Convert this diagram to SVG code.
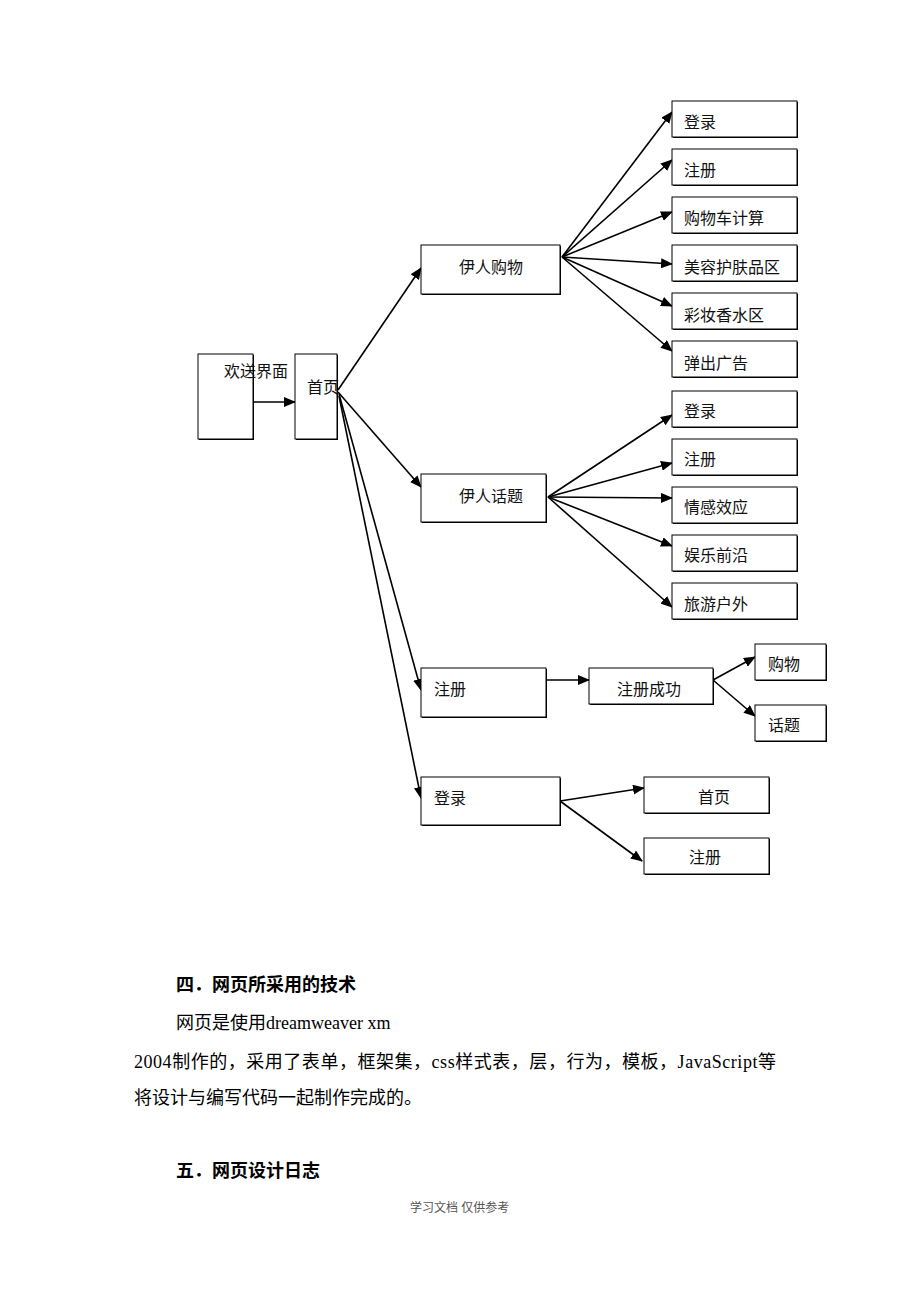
<svg xmlns="http://www.w3.org/2000/svg" width="920" height="1302" viewBox="0 0 920 1302">
<style>
.sh{fill:#000}
.bx{fill:#fff;stroke:#000;stroke-width:1}
.lb{font-family:"Liberation Serif","Noto Sans CJK SC",serif;font-size:16px;fill:#111}
.ln{stroke:#000;stroke-width:1.6;fill:none;marker-end:url(#ah)}
.tx{font-family:"Liberation Serif","Noto Sans CJK SC",serif;font-size:18px;fill:#000}
.hd{font-family:"Liberation Sans","Noto Sans CJK SC",sans-serif;font-size:18px;font-weight:bold;fill:#000}
.ft{font-family:"Liberation Sans","Noto Sans CJK SC",sans-serif;font-size:12px;fill:#555}
</style>
<defs>
<marker id="ah" markerUnits="userSpaceOnUse" markerWidth="12" markerHeight="10" refX="11" refY="5" orient="auto">
<path d="M0,0 L12,5 L0,10 Z" fill="#000"/>
</marker>
</defs>
<rect width="920" height="1302" fill="#fff"/>

<g id="connectors">
<line class="ln" x1="253" y1="402" x2="295" y2="402"/>
<line class="ln" x1="338" y1="390" x2="421" y2="268"/>
<line class="ln" x1="338" y1="392" x2="421" y2="487"/>
<line class="ln" x1="339" y1="394" x2="421" y2="690"/>
<line class="ln" x1="339" y1="396" x2="421" y2="798"/>
<line class="ln" x1="562" y1="257" x2="672" y2="112"/>
<line class="ln" x1="562" y1="257" x2="672" y2="160"/>
<line class="ln" x1="562" y1="257" x2="672" y2="212"/>
<line class="ln" x1="562" y1="257" x2="672" y2="264"/>
<line class="ln" x1="562" y1="257" x2="672" y2="306"/>
<line class="ln" x1="562" y1="257" x2="672" y2="351"/>
<line class="ln" x1="548" y1="497" x2="672" y2="415"/>
<line class="ln" x1="548" y1="497" x2="672" y2="463"/>
<line class="ln" x1="548" y1="497" x2="672" y2="498"/>
<line class="ln" x1="548" y1="497" x2="672" y2="546"/>
<line class="ln" x1="548" y1="497" x2="672" y2="607"/>
<line class="ln" x1="546" y1="680" x2="589" y2="680"/>
<line class="ln" x1="713" y1="680" x2="755" y2="657"/>
<line class="ln" x1="713" y1="680" x2="755" y2="716"/>
<line class="ln" x1="560" y1="801" x2="644" y2="788"/>
<line class="ln" x1="560" y1="801" x2="642" y2="861"/>
</g>

<g id="n-welcome"><rect class="sh" x="199" y="355" width="55" height="85"/><rect class="bx" x="198" y="354" width="55" height="85"/><text class="lb" x="224" y="377">欢送界面</text></g>
<g id="n-home"><rect class="sh" x="296" y="355" width="42" height="85"/><rect class="bx" x="295" y="354" width="42" height="85"/><text class="lb" x="307" y="393">首页</text></g>

<g id="n-shop"><rect class="sh" x="422" y="246" width="139" height="49"/><rect class="bx" x="421" y="245" width="139" height="49"/><text class="lb" x="459" y="273">伊人购物</text></g>
<g id="n-s1"><rect class="sh" x="673" y="102" width="125" height="36"/><rect class="bx" x="672" y="101" width="125" height="36"/><text class="lb" x="684" y="128">登录</text></g>
<g id="n-s2"><rect class="sh" x="673" y="150" width="125" height="36"/><rect class="bx" x="672" y="149" width="125" height="36"/><text class="lb" x="684" y="176">注册</text></g>
<g id="n-s3"><rect class="sh" x="673" y="198" width="125" height="36"/><rect class="bx" x="672" y="197" width="125" height="36"/><text class="lb" x="684" y="224">购物车计算</text></g>
<g id="n-s4"><rect class="sh" x="673" y="246" width="125" height="36"/><rect class="bx" x="672" y="245" width="125" height="36"/><text class="lb" x="684" y="273">美容护肤品区</text></g>
<g id="n-s5"><rect class="sh" x="673" y="294" width="125" height="36"/><rect class="bx" x="672" y="293" width="125" height="36"/><text class="lb" x="684" y="321">彩妆香水区</text></g>
<g id="n-s6"><rect class="sh" x="673" y="342" width="125" height="36"/><rect class="bx" x="672" y="341" width="125" height="36"/><text class="lb" x="684" y="369">弹出广告</text></g>

<g id="n-topic"><rect class="sh" x="422" y="475" width="125" height="48"/><rect class="bx" x="421" y="474" width="125" height="48"/><text class="lb" x="459" y="502">伊人话题</text></g>
<g id="n-t1"><rect class="sh" x="673" y="392" width="125" height="36"/><rect class="bx" x="672" y="391" width="125" height="36"/><text class="lb" x="684" y="417">登录</text></g>
<g id="n-t2"><rect class="sh" x="673" y="440" width="125" height="36"/><rect class="bx" x="672" y="439" width="125" height="36"/><text class="lb" x="684" y="465">注册</text></g>
<g id="n-t3"><rect class="sh" x="673" y="488" width="125" height="36"/><rect class="bx" x="672" y="487" width="125" height="36"/><text class="lb" x="684" y="513">情感效应</text></g>
<g id="n-t4"><rect class="sh" x="673" y="536" width="125" height="36"/><rect class="bx" x="672" y="535" width="125" height="36"/><text class="lb" x="684" y="561">娱乐前沿</text></g>
<g id="n-t5"><rect class="sh" x="673" y="584" width="125" height="36"/><rect class="bx" x="672" y="583" width="125" height="36"/><text class="lb" x="684" y="610">旅游户外</text></g>

<g id="n-reg"><rect class="sh" x="422" y="669" width="125" height="49"/><rect class="bx" x="421" y="668" width="125" height="49"/><text class="lb" x="434" y="695">注册</text></g>
<g id="n-regok"><rect class="sh" x="590" y="669" width="124" height="36"/><rect class="bx" x="589" y="668" width="124" height="36"/><text class="lb" x="617" y="695">注册成功</text></g>
<g id="n-r1"><rect class="sh" x="756" y="645" width="71" height="36"/><rect class="bx" x="755" y="644" width="71" height="36"/><text class="lb" x="768" y="670">购物</text></g>
<g id="n-r2"><rect class="sh" x="756" y="706" width="71" height="36"/><rect class="bx" x="755" y="705" width="71" height="36"/><text class="lb" x="768" y="731">话题</text></g>

<g id="n-login"><rect class="sh" x="422" y="778" width="139" height="48"/><rect class="bx" x="421" y="777" width="139" height="48"/><text class="lb" x="434" y="804">登录</text></g>
<g id="n-l1"><rect class="sh" x="645" y="778" width="125" height="36"/><rect class="bx" x="644" y="777" width="125" height="36"/><text class="lb" x="698" y="803">首页</text></g>
<g id="n-l2"><rect class="sh" x="645" y="839" width="125" height="36"/><rect class="bx" x="644" y="838" width="125" height="36"/><text class="lb" x="689" y="863">注册</text></g>

<g id="body">
<text class="hd" x="176" y="991">四．网页所采用的技术</text>
<text class="tx" x="176" y="1029">网页是使用dreamweaver xm</text>
<text class="tx" x="134" y="1068" textLength="642" lengthAdjust="spacing">2004制作的，采用了表单，框架集，css样式表，层，行为，模板，JavaScript等</text>
<text class="tx" x="134" y="1104">将设计与编写代码一起制作完成的。</text>
<text class="hd" x="176" y="1177">五．网页设计日志</text>
<text class="ft" x="410" y="1212">学习文档 仅供参考</text>
</g>
</svg>
